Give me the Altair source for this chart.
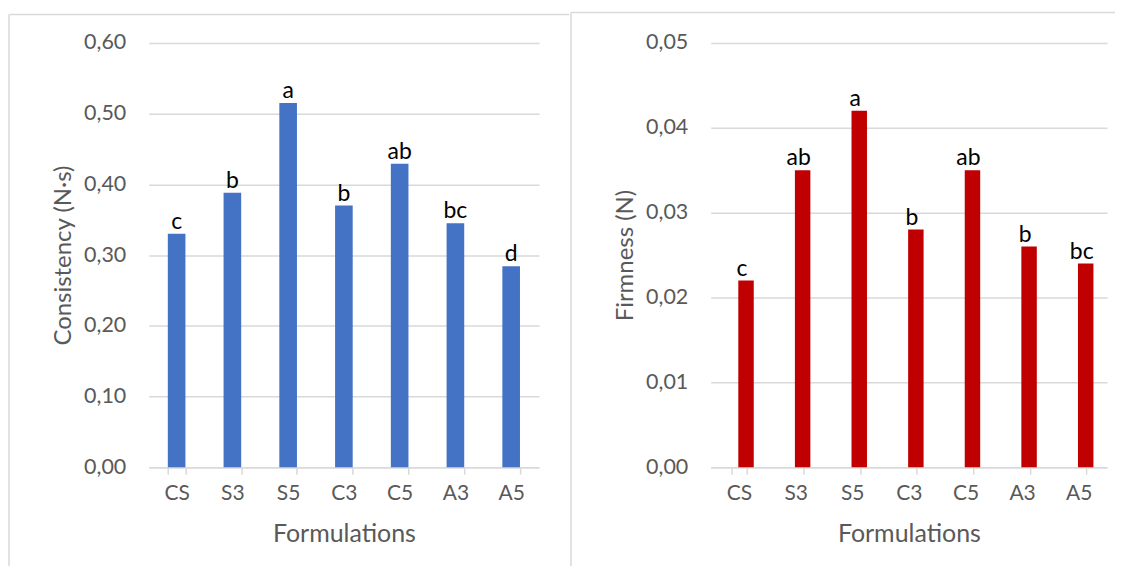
import altair as alt
import pandas as pd

categories = ["CS", "S3", "S5", "C3", "C5", "A3", "A5"]
consistency = [0.330, 0.388, 0.515, 0.370, 0.429, 0.345, 0.284]
consistency_letters = ["c", "b", "a", "b", "ab", "bc", "d"]
firmness = [0.022, 0.035, 0.042, 0.028, 0.035, 0.026, 0.024]
firmness_letters = ["c", "ab", "a", "b", "ab", "b", "bc"]
consistency_ticks = [0.0, 0.1, 0.2, 0.3, 0.4, 0.5, 0.6]
firmness_ticks = [0.0, 0.01, 0.02, 0.03, 0.04, 0.05]

FONT = "Lato"
AXIS_GRAY = "#595959"
LINE_GRAY = "#d9d9d9"


def panel(values, letters, ticks, color, ytitle, width, band, bar_dx, text_dx,
          frame_top, frame_right):
    df = pd.DataFrame({"Formulation": categories, "value": values, "letter": letters})
    x = alt.X(
        "Formulation:N", sort=categories,
        scale=alt.Scale(paddingInner=1 - band, paddingOuter=(1 - band) / 2),
        axis=alt.Axis(
            title="Formulations", labelAngle=0, tickBand="extent",
            domainColor=LINE_GRAY, domainWidth=1.5, tickColor=LINE_GRAY,
            tickWidth=1.5, tickSize=7, labelPadding=8, labelFont=FONT,
            labelFontSize=21, labelColor=AXIS_GRAY, titleFont=FONT,
            titleFontSize=25, titleColor=AXIS_GRAY, titleFontWeight="normal",
            titlePadding=18,
        ),
    )
    y = alt.Y(
        "value:Q",
        scale=alt.Scale(domain=[ticks[0], ticks[-1]], nice=False),
        axis=alt.Axis(
            title=ytitle, values=ticks,
            labelExpr="replace(format(datum.value, '.2f'), '.', ',')",
            domain=False, ticks=False, grid=True, gridColor=LINE_GRAY,
            gridWidth=1.5, labelPadding=23, labelFont=FONT, labelFontSize=21.5,
            labelColor=AXIS_GRAY, titleFont=FONT, titleFontSize=24,
            titleColor=AXIS_GRAY, titleFontWeight="normal", titlePadding=8,
        ),
    )
    frame_df = pd.DataFrame({"f": [0]})
    top_line = alt.Chart(frame_df).mark_rule(
        stroke=LINE_GRAY, strokeWidth=1.5
    ).encode(x=alt.value(-140), x2=alt.value(frame_right), y=alt.value(frame_top))
    left_line = alt.Chart(frame_df).mark_rule(
        stroke=LINE_GRAY, strokeWidth=1.5
    ).encode(x=alt.value(-140), y=alt.value(frame_top), y2=alt.value(524))
    bars = alt.Chart(df).mark_bar(color=color, xOffset=bar_dx).encode(x=x, y=y)
    text = alt.Chart(df).mark_text(
        font=FONT, fontSize=23, color="black", baseline="alphabetic", dy=-5,
        xOffset=text_dx,
    ).encode(x=x, y=y, text="letter:N")
    return alt.layer(top_line, left_line, bars, text).properties(width=width, height=425)


left = panel(consistency, consistency_letters, consistency_ticks, "#4472C4",
             "Consistency (N·s)", 391, 0.316, 0, 0, -28.5, 421)
right = panel(firmness, firmness_letters, firmness_ticks, "#C00000",
              "Firmness (N)", 397, 0.273, 7, 3, -30.5, 405)

chart = alt.hconcat(left, right, spacing=0).properties(
    padding={"left": 0, "top": 2.5, "right": 0, "bottom": 0}
).configure_view(strokeWidth=0)

chart.save("out.html", embed_options={"renderer": "svg", "actions": False})
